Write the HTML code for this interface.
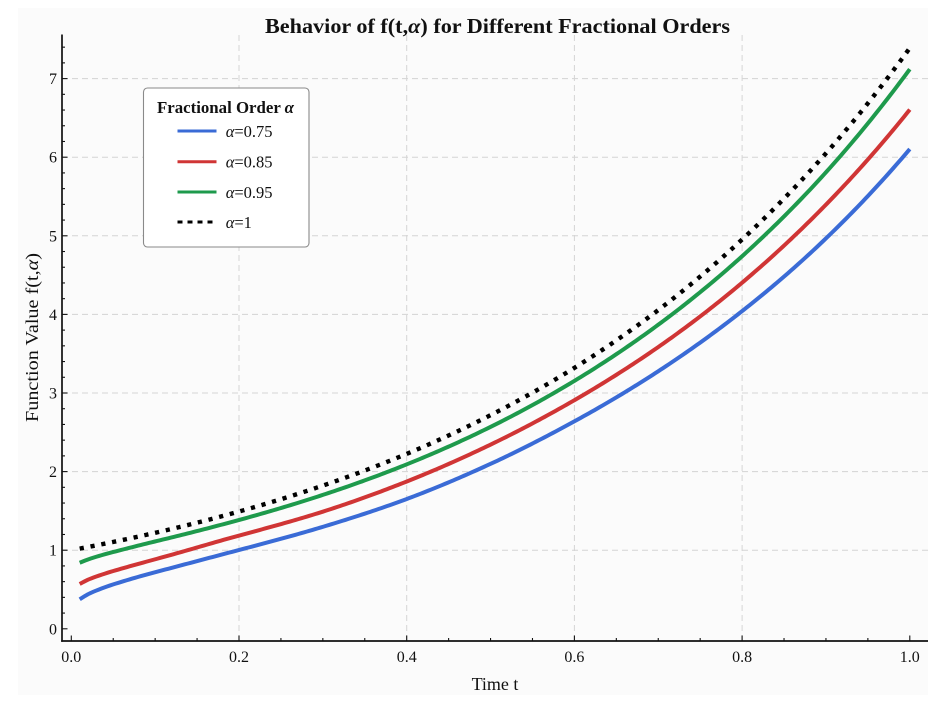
<!DOCTYPE html>
<html>
<head>
<meta charset="utf-8">
<style>
html,body{margin:0;padding:0;background:#ffffff;}
svg{display:block;}
text{font-family:"Liberation Serif","DejaVu Serif",serif;fill:#111;}
</style>
</head>
<body>
<svg id="chart" width="947" height="710" viewBox="0 0 947 710" xmlns="http://www.w3.org/2000/svg">
  <rect x="0" y="0" width="947" height="710" fill="#ffffff"/>
  <rect x="18" y="8" width="910" height="687" fill="#fbfbfb"/>

  <!-- grid -->
  <g stroke="#d4d4d4" stroke-width="1" stroke-dasharray="6,4" fill="none">
    <line x1="62" y1="550.2" x2="928" y2="550.2"/>
    <line x1="62" y1="471.6" x2="928" y2="471.6"/>
    <line x1="62" y1="393.0" x2="928" y2="393.0"/>
    <line x1="62" y1="314.4" x2="928" y2="314.4"/>
    <line x1="62" y1="235.8" x2="928" y2="235.8"/>
    <line x1="62" y1="157.2" x2="928" y2="157.2"/>
    <line x1="62" y1="78.6" x2="928" y2="78.6"/>
    <line x1="239.0" y1="35" x2="239.0" y2="641"/>
    <line x1="406.7" y1="35" x2="406.7" y2="641"/>
    <line x1="574.4" y1="35" x2="574.4" y2="641"/>
    <line x1="742.1" y1="35" x2="742.1" y2="641"/>
  </g>

  <g id="curves" fill="none" stroke-linejoin="round"></g>

  <!-- spines -->
  <g stroke="#111" stroke-width="1.7" fill="none">
    <line x1="62" y1="34.5" x2="62" y2="641.8"/>
    <line x1="61.2" y1="641" x2="928" y2="641"/>
  </g>
  <g id="ticks" stroke="#111" stroke-width="1.1" fill="none"></g>

  <!-- tick labels -->
  <g font-size="16" text-anchor="middle">
    <text x="71.3" y="662">0.0</text>
    <text x="239.0" y="662">0.2</text>
    <text x="406.7" y="662">0.4</text>
    <text x="574.4" y="662">0.6</text>
    <text x="742.1" y="662">0.8</text>
    <text x="909.8" y="662">1.0</text>
  </g>
  <g font-size="16" text-anchor="end">
    <text x="57" y="634.3">0</text>
    <text x="57" y="555.7">1</text>
    <text x="57" y="477.1">2</text>
    <text x="57" y="398.5">3</text>
    <text x="57" y="319.9">4</text>
    <text x="57" y="241.3">5</text>
    <text x="57" y="162.7">6</text>
    <text x="57" y="84.1">7</text>
  </g>

  <!-- axis labels -->
  <text x="495" y="690" font-size="18" text-anchor="middle">Time t</text>
  <text transform="translate(38,337.5) rotate(-90)" font-size="17.5" text-anchor="middle" textLength="169" lengthAdjust="spacingAndGlyphs">Function Value f(t,<tspan font-style="italic">α</tspan>)</text>

  <!-- title -->
  <text x="497.5" y="33" font-size="21" font-weight="bold" text-anchor="middle" textLength="465" lengthAdjust="spacingAndGlyphs">Behavior of f(t,<tspan font-style="italic">α</tspan>) for Different Fractional Orders</text>

  <!-- legend -->
  <rect x="143.5" y="88" width="165.5" height="159" rx="4" ry="4" fill="#ffffff" stroke="#8a8a8a" stroke-width="1.1"/>
  <text x="225.5" y="113" font-size="16.5" font-weight="bold" text-anchor="middle" textLength="137" lengthAdjust="spacingAndGlyphs">Fractional Order <tspan font-style="italic">α</tspan></text>
  <line x1="177.5" y1="131" x2="216.5" y2="131" stroke="#3a6bd6" stroke-width="3"/>
  <line x1="177.5" y1="161.7" x2="216.5" y2="161.7" stroke="#d03535" stroke-width="3"/>
  <line x1="177.5" y1="192" x2="216.5" y2="192" stroke="#1e9a4c" stroke-width="3"/>
  <line x1="177.5" y1="222" x2="216.5" y2="222" stroke="#000" stroke-width="3" stroke-dasharray="5,5"/>
  <g font-size="16.5">
    <text x="225.7" y="137"><tspan font-style="italic">α</tspan>=0.75</text>
    <text x="225.7" y="167.7"><tspan font-style="italic">α</tspan>=0.85</text>
    <text x="225.7" y="198"><tspan font-style="italic">α</tspan>=0.95</text>
    <text x="225.7" y="228"><tspan font-style="italic">α</tspan>=1</text>
  </g>
</svg>
<script>
(function(){
  var NS="http://www.w3.org/2000/svg";
  var X=function(t){return 71.3+838.5*t;};
  var Y=function(v){return 628.8-78.6*v;};
  var tg=document.getElementById("ticks");
  function ln(x1,y1,x2,y2){var l=document.createElementNS(NS,"line");l.setAttribute("x1",x1);l.setAttribute("y1",y1);l.setAttribute("x2",x2);l.setAttribute("y2",y2);tg.appendChild(l);}
  for(var i=0;i<=20;i++){var t=i*0.05;var x=X(t);var major=(i%4===0);ln(x,641,x,major?635.5:638);}
  for(var j=0;j<=37;j++){var v=j*0.2;var y=Y(v);if(y<36)continue;var mj=(j%5===0);ln(62,y,mj?67.5:65,y);}
  function mono(xs,ys){
    var n=xs.length,d=[],h=[],m=[];
    for(var i=0;i<n-1;i++){h[i]=xs[i+1]-xs[i];d[i]=(ys[i+1]-ys[i])/h[i];}
    m[0]=d[0];m[n-1]=d[n-2];
    for(var i=1;i<n-1;i++){
      if(d[i-1]*d[i]<=0){m[i]=0;}
      else{var h0=h[i-1],h1=h[i];m[i]=3*(h0+h1)/((2*h1+h0)/d[i-1]+(h1+2*h0)/d[i]);}
    }
    return function(x){
      var i=0;while(i<n-2&&x>xs[i+1])i++;
      var hh=h[i],s=(x-xs[i])/hh,s2=s*s,s3=s2*s;
      return (2*s3-3*s2+1)*ys[i]+(s3-2*s2+s)*hh*m[i]+(-2*s3+3*s2)*ys[i+1]+(s3-s2)*hh*m[i+1];
    };
  }
  var T=[0.01,0.02,0.03,0.05,0.1,0.2,0.3,0.4,0.5,0.6,0.7,0.8,0.9,1.0];
  var series=[
    {c:"#3a6bd6",r:[0.3676,0.4227,0.4587,0.511,0.5895,0.672,0.712,0.742,0.772,0.795,0.808,0.816,0.821,0.826]},
    {c:"#d03535",r:[0.5587,0.6005,0.627,0.665,0.724,0.795,0.818,0.842,0.862,0.876,0.884,0.889,0.892,0.894]},
    {c:"#1e9a4c",r:[0.8234,0.848,0.864,0.884,0.910,0.928,0.935,0.940,0.945,0.950,0.954,0.957,0.960,0.9636]}
  ];
  var g=document.getElementById("curves");
  function addPath(fn,color,dash){
    var d="",N=300;
    for(var k=0;k<=N;k++){var t=0.01+(0.99*k/N);var px=X(t),py=Y(fn(t));d+=(k?"L":"M")+px.toFixed(2)+","+py.toFixed(2);}
    var p=document.createElementNS(NS,"path");
    p.setAttribute("d",d);p.setAttribute("stroke",color);p.setAttribute("stroke-width","4");
    if(dash){p.setAttribute("stroke-dasharray",dash);p.setAttribute("stroke-width","4.4");}
    g.appendChild(p);
  }
  series.forEach(function(s){var rf=mono(T,s.r);addPath(function(t){return rf(t)*Math.exp(2*t);},s.c,null);});
  addPath(function(t){return Math.exp(2*t);},"#000000","4.2,6.8");
})();
</script>
</body>
</html>
